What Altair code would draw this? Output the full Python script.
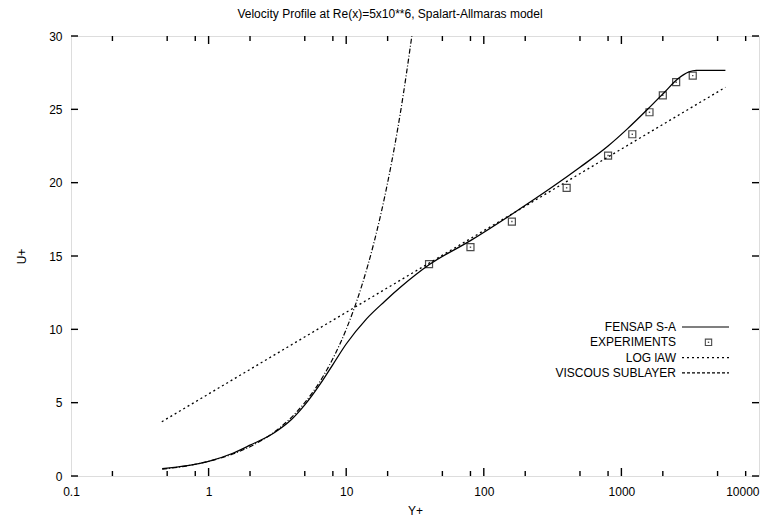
import altair as alt
import pandas as pd

# ---- data ----
fensap_y = [0.46, 1, 1.5, 2, 3, 4, 5, 6.5, 8, 10, 14, 19, 25, 40, 80, 160, 320, 500,
            800, 1100, 1550, 2050, 2550, 3100, 3500, 5700]
fensap_u = [0.5, 1.0, 1.55, 2.1, 2.95, 3.85, 4.85, 6.3, 7.6, 9.0, 10.7, 11.9, 12.9, 14.4,
            16.05, 17.85, 19.75, 21.05, 22.5, 23.65, 25.0, 26.15, 27.05, 27.55, 27.65, 27.65]
exp_y = [40, 80, 160, 400, 800, 1200, 1600, 2000, 2500, 3300]
exp_u = [14.45, 15.6, 17.35, 19.65, 21.85, 23.3, 24.8, 25.95, 26.85, 27.3]
loglaw_y = [0.457, 5700]
loglaw_u = [3.7, 26.5]
visc_y = [0.46, 0.7, 1, 1.5, 2, 3, 4, 5, 7, 10, 13, 16, 20, 25, 30]
visc_u = [0.46, 0.7, 1, 1.5, 2, 3, 4, 5, 7, 10, 13, 16, 20, 25, 30]

x_ticks = [0.1, 1, 10, 100, 1000, 10000]
x_minor = [d * m for d in [0.1, 1, 10, 100, 1000] for m in [2, 5, 8]]
y_ticks = [0, 5, 10, 15, 20, 25, 30]
legend_labels = ["FENSAP S-A", "EXPERIMENTS", "LOG lAW", "VISCOUS SUBLAYER"]

W, H = 688, 440
FONT = "Liberation Sans"

xs = alt.Scale(type="log", domain=[0.1, 10000])
ys = alt.Scale(domain=[0, 30])

fensap = pd.DataFrame({"y": fensap_y, "u": fensap_u})
exp = pd.DataFrame({"y": exp_y, "u": exp_u})
loglaw = pd.DataFrame({"y": loglaw_y, "u": loglaw_u})
visc = pd.DataFrame({"y": visc_y, "u": visc_u})

xaxis = alt.Axis(values=x_ticks, format="~g", title="Y+", domain=False, ticks=False,
                 grid=False, labelPadding=10, titlePadding=8, labelFontSize=12,
                 titleFontSize=12, titleFontWeight="normal", labelColor="black",
                 titleColor="black", labelFont=FONT, titleFont=FONT, labelFlush=False,
                 labelAlign=alt.ExprRef("datum.value >= 10000 ? 'right' : 'center'"))
yaxis = alt.Axis(values=y_ticks, title="U+", domain=False, ticks=False, grid=False,
                 labelPadding=9, titlePadding=20, labelFontSize=12, titleFontSize=12,
                 titleFontWeight="normal", labelColor="black", titleColor="black",
                 labelFont=FONT, titleFont=FONT)


def X(field):
    return alt.X(field, scale=xs, axis=xaxis)


def Y(field):
    return alt.Y(field, scale=ys, axis=yaxis)


main = alt.Chart(fensap).mark_line(color="black", strokeWidth=1.3, clip=True,
                                   interpolate="monotone").encode(x=X("y:Q"), y=Y("u:Q"))

loglaw_line = alt.Chart(loglaw).mark_line(color="black", strokeWidth=1.3,
                                          strokeDash=[2, 3], clip=True).encode(
    x=X("y:Q"), y=Y("u:Q"))

visc_line = alt.Chart(visc).mark_line(color="black", strokeWidth=1.2,
                                      strokeDash=[5, 2, 1, 2], clip=True,
                                      interpolate="monotone").encode(
    x=X("y:Q"), y=Y("u:Q"))

exp_pts = alt.Chart(exp).mark_point(shape="square", size=49, color="black",
                                    strokeWidth=1.2, filled=False).encode(
    x=X("y:Q"), y=Y("u:Q"))
exp_dots = alt.Chart(exp).mark_point(shape="square", size=2, color="black",
                                     filled=True).encode(x=X("y:Q"), y=Y("u:Q"))


# ---- inward ticks (gnuplot style), mirrored on all sides ----
def xticks(values, length):
    df = pd.DataFrame({"y": values})
    bottom = alt.Chart(df).mark_rule(color="black", strokeWidth=1.4).encode(
        x=X("y:Q"), y=alt.value(H), y2=alt.value(H - length))
    top = alt.Chart(df).mark_rule(color="black", strokeWidth=1.4).encode(
        x=X("y:Q"), y=alt.value(0), y2=alt.value(length))
    return [bottom, top]


ydf = pd.DataFrame({"u": y_ticks})
yt_left = alt.Chart(ydf).mark_rule(color="black", strokeWidth=1.4).encode(
    y=Y("u:Q"), x=alt.value(0), x2=alt.value(7))
yt_right = alt.Chart(ydf).mark_rule(color="black", strokeWidth=1.4).encode(
    y=Y("u:Q"), x=alt.value(W), x2=alt.value(W - 7))

tick_layers = xticks(x_ticks[1:-1], 8) + xticks(x_minor, 5) + [yt_left, yt_right]

# ---- manual legend: label on the left, sample on the right ----
leg_x_text = 605
leg_x0, leg_x1 = 611, 658
leg_y0, leg_dy = 291, 15.3
dummy = pd.DataFrame({"a": [0]})
legend_layers = []
samples = [
    dict(kind="line", dash=[1, 0]),
    dict(kind="point"),
    dict(kind="line", dash=[2, 3]),
    dict(kind="line", dash=[3, 2]),
]
for i, (lab, s) in enumerate(zip(legend_labels, samples)):
    yy = leg_y0 + i * leg_dy
    legend_layers.append(
        alt.Chart(pd.DataFrame({"label": [lab]})).mark_text(
            align="right", baseline="middle", font=FONT, fontSize=12, color="black"
        ).encode(text="label:N", x=alt.value(leg_x_text), y=alt.value(yy))
    )
    if s["kind"] == "line":
        legend_layers.append(
            alt.Chart(dummy).mark_rule(color="black", strokeWidth=1.2,
                                       strokeDash=s["dash"]).encode(
                x=alt.value(leg_x0), x2=alt.value(leg_x1), y=alt.value(yy))
        )
    else:
        cx = (leg_x0 + leg_x1) / 2 + 3
        legend_layers.append(
            alt.Chart(dummy).mark_point(shape="square", size=40, color="black",
                                        strokeWidth=1.1, filled=False).encode(
                x=alt.value(cx), y=alt.value(yy))
        )
        legend_layers.append(
            alt.Chart(dummy).mark_point(shape="square", size=2, color="black",
                                        filled=True).encode(
                x=alt.value(cx), y=alt.value(yy))
        )

chart = alt.layer(main, loglaw_line, visc_line, exp_pts, exp_dots,
                  *tick_layers, *legend_layers).properties(
    width=W, height=H,
    autosize=alt.AutoSizeParams(type="none"),
    padding={"left": 63, "top": 28, "right": 3, "bottom": 40},
    title=alt.TitleParams(
        "Velocity Profile at Re(x)=5x10**6, Spalart-Allmaras model",
        anchor="middle", dx=-25, fontSize=12, fontWeight="normal",
        font=FONT, color="black", offset=9),
).configure_view(stroke="black", strokeWidth=1.5).configure(background="white")

chart.save("out.html", embed_options={"renderer": "svg", "actions": False})
